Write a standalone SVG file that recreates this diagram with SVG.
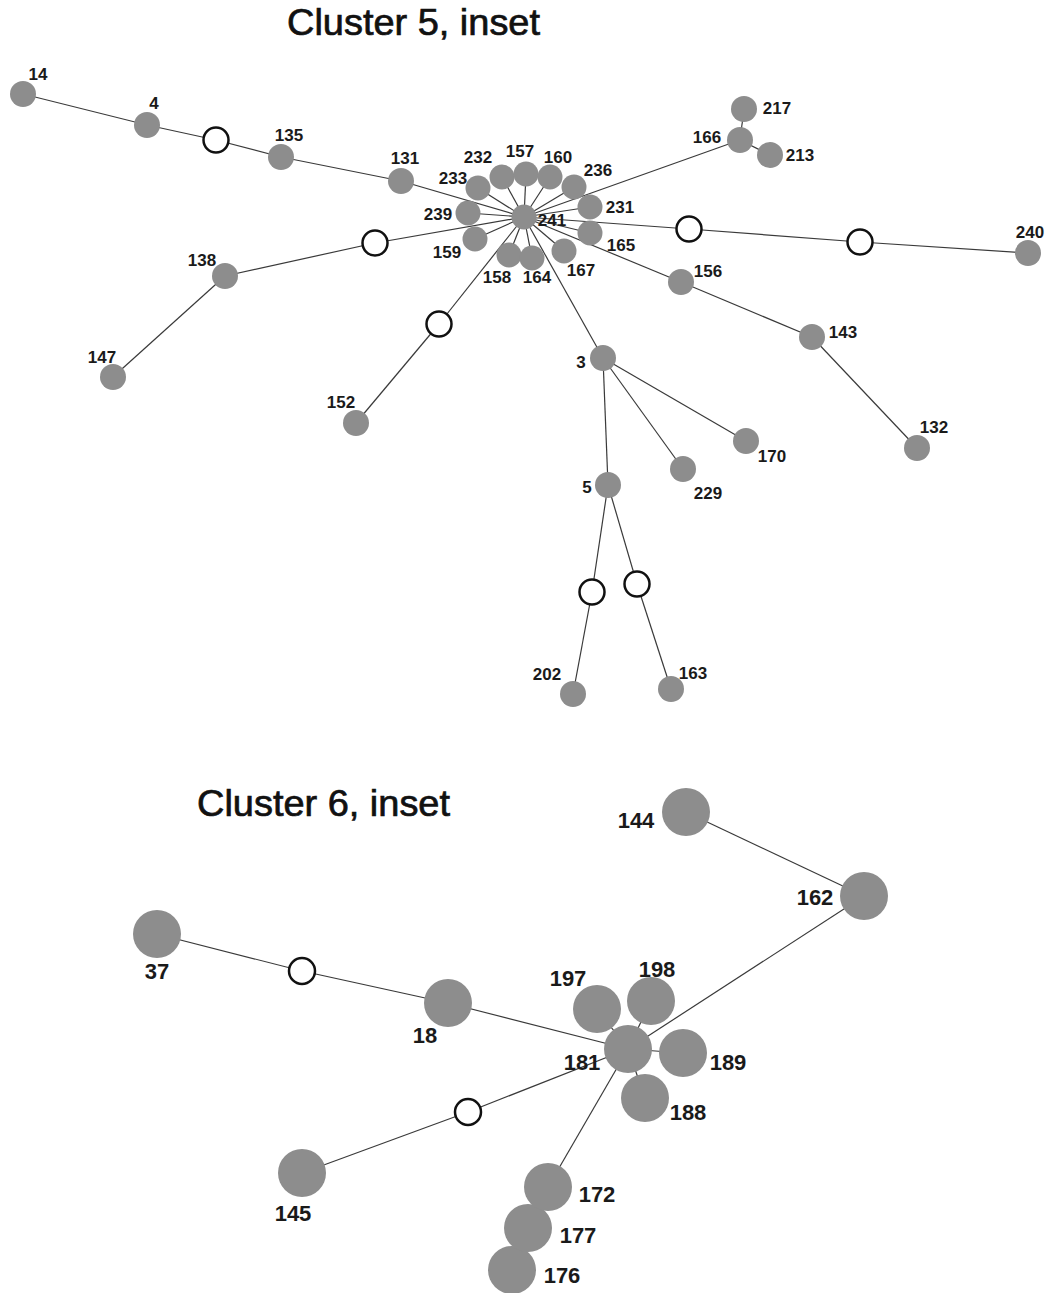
<svg xmlns="http://www.w3.org/2000/svg" width="1050" height="1293" viewBox="0 0 1050 1293">
<style>
.bg{fill:#ffffff}
.title{font-family:"Liberation Sans",Arial,sans-serif;font-size:36px;fill:#111;stroke:#111;stroke-width:0.7}
.edge{stroke:#3a3a3a;stroke-width:1.2;fill:none}
.n{fill:#8d8d8d}
.o{fill:#ffffff;stroke:#111;stroke-width:2.5}
.l5{font-family:"Liberation Sans",Arial,sans-serif;font-size:17px;font-weight:bold;fill:#1a1a1a;text-anchor:middle}
.l6{font-family:"Liberation Sans",Arial,sans-serif;font-size:22px;font-weight:bold;fill:#1a1a1a;text-anchor:middle}
</style>
<rect class="bg" x="0" y="0" width="1050" height="1293"/>
<text class="title" x="287" y="35" textLength="253" lengthAdjust="spacingAndGlyphs">Cluster 5, inset</text>
<text class="title" x="197" y="816" textLength="253" lengthAdjust="spacingAndGlyphs">Cluster 6, inset</text>

<g id="connectors">
<line class="edge" x1="23" y1="94" x2="147" y2="125"/>
<line class="edge" x1="147" y1="125" x2="216" y2="140"/>
<line class="edge" x1="216" y1="140" x2="281" y2="157"/>
<line class="edge" x1="281" y1="157" x2="401" y2="181"/>
<line class="edge" x1="401" y1="181" x2="524" y2="217"/>
<line class="edge" x1="524" y1="217" x2="478" y2="188"/>
<line class="edge" x1="524" y1="217" x2="502" y2="177"/>
<line class="edge" x1="524" y1="217" x2="526" y2="174"/>
<line class="edge" x1="524" y1="217" x2="550" y2="177"/>
<line class="edge" x1="524" y1="217" x2="574" y2="187"/>
<line class="edge" x1="524" y1="217" x2="468" y2="213"/>
<line class="edge" x1="524" y1="217" x2="590" y2="207"/>
<line class="edge" x1="524" y1="217" x2="590" y2="233"/>
<line class="edge" x1="524" y1="217" x2="475" y2="239"/>
<line class="edge" x1="524" y1="217" x2="509" y2="255"/>
<line class="edge" x1="524" y1="217" x2="532" y2="258"/>
<line class="edge" x1="524" y1="217" x2="564" y2="251"/>
<line class="edge" x1="524" y1="217" x2="740" y2="140"/>
<line class="edge" x1="740" y1="140" x2="744" y2="109"/>
<line class="edge" x1="740" y1="140" x2="770" y2="155"/>
<line class="edge" x1="524" y1="217" x2="689" y2="229"/>
<line class="edge" x1="689" y1="229" x2="860" y2="242"/>
<line class="edge" x1="860" y1="242" x2="1028" y2="253"/>
<line class="edge" x1="524" y1="217" x2="681" y2="282"/>
<line class="edge" x1="681" y1="282" x2="812" y2="337"/>
<line class="edge" x1="812" y1="337" x2="917" y2="448"/>
<line class="edge" x1="524" y1="217" x2="603" y2="358"/>
<line class="edge" x1="603" y1="358" x2="608" y2="485"/>
<line class="edge" x1="603" y1="358" x2="683" y2="469"/>
<line class="edge" x1="603" y1="358" x2="746" y2="441"/>
<line class="edge" x1="608" y1="485" x2="592" y2="592"/>
<line class="edge" x1="592" y1="592" x2="573" y2="694"/>
<line class="edge" x1="608" y1="485" x2="637" y2="584"/>
<line class="edge" x1="637" y1="584" x2="671" y2="689"/>
<line class="edge" x1="524" y1="217" x2="375" y2="243"/>
<line class="edge" x1="375" y1="243" x2="225" y2="276"/>
<line class="edge" x1="225" y1="276" x2="113" y2="377"/>
<line class="edge" x1="524" y1="217" x2="439" y2="324"/>
<line class="edge" x1="439" y1="324" x2="356" y2="423"/>
<line class="edge" x1="157" y1="934" x2="302" y2="971"/>
<line class="edge" x1="302" y1="971" x2="448" y2="1003"/>
<line class="edge" x1="448" y1="1003" x2="628" y2="1049"/>
<line class="edge" x1="628" y1="1049" x2="864" y2="896"/>
<line class="edge" x1="864" y1="896" x2="686" y2="812"/>
<line class="edge" x1="628" y1="1049" x2="597" y2="1009"/>
<line class="edge" x1="628" y1="1049" x2="651" y2="1001"/>
<line class="edge" x1="628" y1="1049" x2="683" y2="1053"/>
<line class="edge" x1="628" y1="1049" x2="645" y2="1098"/>
<line class="edge" x1="628" y1="1049" x2="468" y2="1112"/>
<line class="edge" x1="468" y1="1112" x2="302" y2="1173"/>
<line class="edge" x1="628" y1="1049" x2="548" y2="1187"/>
<line class="edge" x1="548" y1="1187" x2="528" y2="1228"/>
<line class="edge" x1="528" y1="1228" x2="512" y2="1270"/>
</g>

<g id="n14"><circle class="n" cx="23" cy="94" r="13"/><text class="l5" x="38" y="80">14</text></g>
<g id="n4"><circle class="n" cx="147" cy="125" r="13"/><text class="l5" x="154" y="109">4</text></g>
<g id="o1"><circle class="o" cx="216" cy="140" r="12.5"/></g>
<g id="n135"><circle class="n" cx="281" cy="157" r="13"/><text class="l5" x="289" y="141">135</text></g>
<g id="n131"><circle class="n" cx="401" cy="181" r="13"/><text class="l5" x="405" y="164">131</text></g>
<g id="n233"><circle class="n" cx="478" cy="188" r="12.5"/><text class="l5" x="453" y="184">233</text></g>
<g id="n232"><circle class="n" cx="502" cy="177" r="12.5"/><text class="l5" x="478" y="163">232</text></g>
<g id="n157"><circle class="n" cx="526" cy="174" r="12.5"/><text class="l5" x="520" y="157">157</text></g>
<g id="n160"><circle class="n" cx="550" cy="177" r="12.5"/><text class="l5" x="558" y="163">160</text></g>
<g id="n236"><circle class="n" cx="574" cy="187" r="12.5"/><text class="l5" x="598" y="176">236</text></g>
<g id="n239"><circle class="n" cx="468" cy="213" r="12.5"/><text class="l5" x="438" y="220">239</text></g>
<g id="n231"><circle class="n" cx="590" cy="207" r="12.5"/><text class="l5" x="620" y="213">231</text></g>
<g id="n165"><circle class="n" cx="590" cy="233" r="12.5"/><text class="l5" x="621" y="251">165</text></g>
<g id="n159"><circle class="n" cx="475" cy="239" r="12.5"/><text class="l5" x="447" y="258">159</text></g>
<g id="n158"><circle class="n" cx="509" cy="255" r="12.5"/><text class="l5" x="497" y="283">158</text></g>
<g id="n164"><circle class="n" cx="532" cy="258" r="12.5"/><text class="l5" x="537" y="283">164</text></g>
<g id="n167"><circle class="n" cx="564" cy="251" r="12.5"/><text class="l5" x="581" y="276">167</text></g>
<g id="n241"><circle class="n" cx="524" cy="217" r="12.5"/><text class="l5" x="552" y="226">241</text></g>
<g id="n166"><circle class="n" cx="740" cy="140" r="13"/><text class="l5" x="707" y="143">166</text></g>
<g id="n217"><circle class="n" cx="744" cy="109" r="13"/><text class="l5" x="777" y="114">217</text></g>
<g id="n213"><circle class="n" cx="770" cy="155" r="13"/><text class="l5" x="800" y="161">213</text></g>
<g id="o2"><circle class="o" cx="689" cy="229" r="12.5"/></g>
<g id="o3"><circle class="o" cx="860" cy="242" r="12.5"/></g>
<g id="n240"><circle class="n" cx="1028" cy="253" r="13"/><text class="l5" x="1030" y="238">240</text></g>
<g id="n156"><circle class="n" cx="681" cy="282" r="13"/><text class="l5" x="708" y="277">156</text></g>
<g id="n143"><circle class="n" cx="812" cy="337" r="13"/><text class="l5" x="843" y="338">143</text></g>
<g id="n132"><circle class="n" cx="917" cy="448" r="13"/><text class="l5" x="934" y="433">132</text></g>
<g id="n3"><circle class="n" cx="603" cy="358" r="13"/><text class="l5" x="581" y="368">3</text></g>
<g id="n170"><circle class="n" cx="746" cy="441" r="13"/><text class="l5" x="772" y="462">170</text></g>
<g id="n229"><circle class="n" cx="683" cy="469" r="13"/><text class="l5" x="708" y="499">229</text></g>
<g id="n5"><circle class="n" cx="608" cy="485" r="13"/><text class="l5" x="587" y="493">5</text></g>
<g id="o4"><circle class="o" cx="592" cy="592" r="12.5"/></g>
<g id="o5"><circle class="o" cx="637" cy="584" r="12.5"/></g>
<g id="n202"><circle class="n" cx="573" cy="694" r="13"/><text class="l5" x="547" y="680">202</text></g>
<g id="n163"><circle class="n" cx="671" cy="689" r="13"/><text class="l5" x="693" y="679">163</text></g>
<g id="o6"><circle class="o" cx="375" cy="243" r="12.5"/></g>
<g id="n138"><circle class="n" cx="225" cy="276" r="13"/><text class="l5" x="202" y="266">138</text></g>
<g id="n147"><circle class="n" cx="113" cy="377" r="13"/><text class="l5" x="102" y="363">147</text></g>
<g id="o7"><circle class="o" cx="439" cy="324" r="12.5"/></g>
<g id="n152"><circle class="n" cx="356" cy="423" r="13"/><text class="l5" x="341" y="408">152</text></g>

<g id="n37"><circle class="n" cx="157" cy="934" r="24"/><text class="l6" x="157" y="979">37</text></g>
<g id="o8"><circle class="o" cx="302" cy="971" r="13"/></g>
<g id="n18"><circle class="n" cx="448" cy="1003" r="24"/><text class="l6" x="425" y="1043">18</text></g>
<g id="n144"><circle class="n" cx="686" cy="812" r="24"/><text class="l6" x="636" y="828">144</text></g>
<g id="n162"><circle class="n" cx="864" cy="896" r="24"/><text class="l6" x="815" y="905">162</text></g>
<g id="n197"><circle class="n" cx="597" cy="1009" r="24"/><text class="l6" x="568" y="986">197</text></g>
<g id="n198"><circle class="n" cx="651" cy="1001" r="24"/><text class="l6" x="657" y="977">198</text></g>
<g id="n189"><circle class="n" cx="683" cy="1053" r="24"/><text class="l6" x="728" y="1070">189</text></g>
<g id="n188"><circle class="n" cx="645" cy="1098" r="24"/><text class="l6" x="688" y="1120">188</text></g>
<g id="n181"><circle class="n" cx="628" cy="1049" r="24"/><text class="l6" x="582" y="1070">181</text></g>
<g id="o9"><circle class="o" cx="468" cy="1112" r="13"/></g>
<g id="n145"><circle class="n" cx="302" cy="1173" r="24"/><text class="l6" x="293" y="1221">145</text></g>
<g id="n176"><circle class="n" cx="512" cy="1270" r="24"/><text class="l6" x="562" y="1283">176</text></g>
<g id="n177"><circle class="n" cx="528" cy="1228" r="24"/><text class="l6" x="578" y="1243">177</text></g>
<g id="n172"><circle class="n" cx="548" cy="1187" r="24"/><text class="l6" x="597" y="1202">172</text></g>
</svg>
